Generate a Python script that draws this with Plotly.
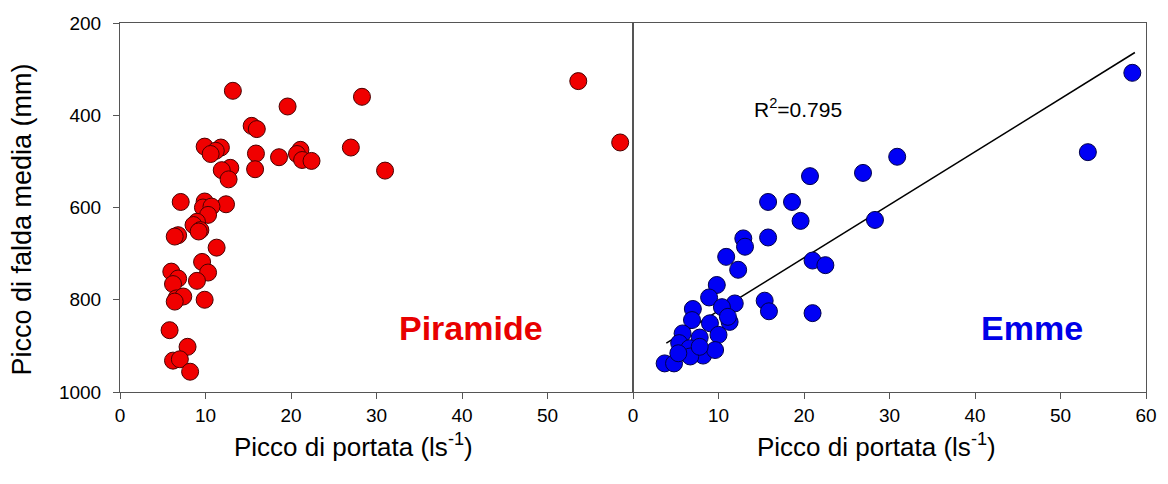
import plotly.graph_objects as go

# ---------------- data ----------------
# Piramide (left panel)
piramide_portata = [13.2, 19.6, 15.4, 16.0, 9.9, 11.8, 11.2, 10.6, 15.9, 18.6,
                    21.1, 20.7, 21.3, 22.4, 12.9, 11.9, 12.7, 15.8, 7.1, 12.4,
                    9.9, 9.7, 10.7, 10.3, 9.0, 8.6, 9.4, 9.2, 6.8, 6.4,
                    11.3, 9.6, 10.3, 9.0, 6.0, 6.8, 6.2, 6.6, 7.4, 6.4,
                    9.9, 5.8, 7.9, 6.2, 7.0, 8.2, 28.3, 27.0, 31.0, 53.6, 58.5]
piramide_falda = [347, 381, 423, 430, 468, 470, 477, 484, 483, 491,
                  475, 484, 497, 499, 514, 519, 539, 517, 588, 593,
                  587, 600, 598, 616, 631, 638, 649, 652, 660, 663,
                  687, 718, 741, 759, 739, 754, 766, 797, 793, 804,
                  800, 866, 902, 932, 929, 956, 360, 470, 520, 326, 459]

# Emme (right panel)
emme_portata = [58.4, 53.2, 30.9, 26.9, 20.7, 15.8, 18.6, 19.6, 28.3,
                21.0, 22.5, 21.0, 15.8, 12.9, 13.1, 10.9, 12.3, 9.8, 8.9,
                11.9, 15.4, 15.9, 7.0, 10.4, 11.3, 9.0, 6.9, 5.8, 7.8,
                10.0, 5.4, 6.6, 8.2, 9.6, 3.7, 4.8, 6.7, 11.1, 7.8, 5.3]
emme_falda = [308, 480, 490, 525, 532, 588, 588, 629, 627,
              715, 725, 829, 665, 667, 685, 707, 735, 768, 795,
              808, 802, 825, 820, 816, 848, 851, 844, 873, 882,
              876, 894, 905, 921, 909, 938, 938, 923, 837, 902, 916]

# regression line for Emme
fit_x = [3.9, 58.7]
fit_intercept = 939.0
fit_slope = -11.5
r2_text = "R<sup>2</sup>=0.795"

y_ticks = [200, 400, 600, 800, 1000]
x_ticks_left = [0, 10, 20, 30, 40, 50]
x_ticks_right = [0, 10, 20, 30, 40, 50, 60]

x_title = "Picco di portata (ls<sup>-1</sup>)"
y_title = "Picco di falda media (mm)"

# ---------------- figure ----------------
fig = go.Figure()

fig.add_trace(go.Scatter(
    x=piramide_portata, y=piramide_falda, mode="markers",
    marker=dict(size=17, color="#f00000", line=dict(color="#4a0000", width=1)),
    xaxis="x", yaxis="y", showlegend=False))

fit_y = [fit_intercept + fit_slope * v for v in fit_x]
fig.add_trace(go.Scatter(
    x=fit_x, y=fit_y, mode="lines", line=dict(color="black", width=1.5),
    xaxis="x2", yaxis="y2", showlegend=False))

fig.add_trace(go.Scatter(
    x=emme_portata, y=emme_falda, mode="markers",
    marker=dict(size=17, color="#0000f5", line=dict(color="#00004a", width=1)),
    xaxis="x2", yaxis="y2", showlegend=False))

axis_common = dict(showline=True, linecolor="#555", linewidth=1, mirror=True,
                   showgrid=False, zeroline=False, ticks="outside", ticklen=6,
                   tickcolor="#555", tickfont=dict(size=19, color="black"))

fig.update_layout(
    width=1168, height=484,
    margin=dict(l=120, r=22, t=23, b=92),
    paper_bgcolor="white", plot_bgcolor="white",
    font=dict(family="Liberation Sans, Arial, sans-serif", color="black"),
    xaxis=dict(domain=[0, 0.5], range=[0, 60], tickvals=x_ticks_left,
               anchor="y", **axis_common),
    xaxis2=dict(domain=[0.5, 1], range=[0, 60], tickvals=x_ticks_right,
                anchor="y2", **axis_common),
    yaxis=dict(range=[1000, 200], tickvals=y_ticks, anchor="x",
               ticklabelstandoff=8, **axis_common),
    yaxis2=dict(range=[1000, 200], anchor="x2", matches="y",
                showline=True, linecolor="#555", linewidth=1, mirror=True,
                showgrid=False, zeroline=False, ticks="", showticklabels=False),
)

# axis titles
fig.add_annotation(x=0.2276, y=-0.145, xref="paper", yref="paper", text=x_title,
                   showarrow=False, font=dict(size=26, color="black"),
                   xanchor="center", yanchor="middle")
fig.add_annotation(x=0.7373, y=-0.145, xref="paper", yref="paper", text=x_title,
                   showarrow=False, font=dict(size=26, color="black"),
                   xanchor="center", yanchor="middle")
fig.add_annotation(x=-0.0955, y=0.4675, xref="paper", yref="paper", text=y_title,
                   showarrow=False, textangle=-90, font=dict(size=27, color="black"),
                   xanchor="center", yanchor="middle")

# panel labels
fig.add_annotation(x=41.1, y=862, xref="x", yref="y", text="<b>Piramide</b>",
                   showarrow=False, font=dict(size=34, color="#e80000"),
                   xanchor="center", yanchor="middle")
fig.add_annotation(x=46.7, y=862, xref="x2", yref="y2", text="<b>Emme</b>",
                   showarrow=False, font=dict(size=34, color="#0000e8"),
                   xanchor="center", yanchor="middle")
fig.add_annotation(x=19.3, y=384, xref="x2", yref="y2", text=r2_text,
                   showarrow=False, font=dict(size=21, color="black"),
                   xanchor="center", yanchor="middle")

fig.write_html("out.html", config={"displayModeBar": False},
               post_script="document.body.style.margin='0';document.body.style.overflow='hidden';")
